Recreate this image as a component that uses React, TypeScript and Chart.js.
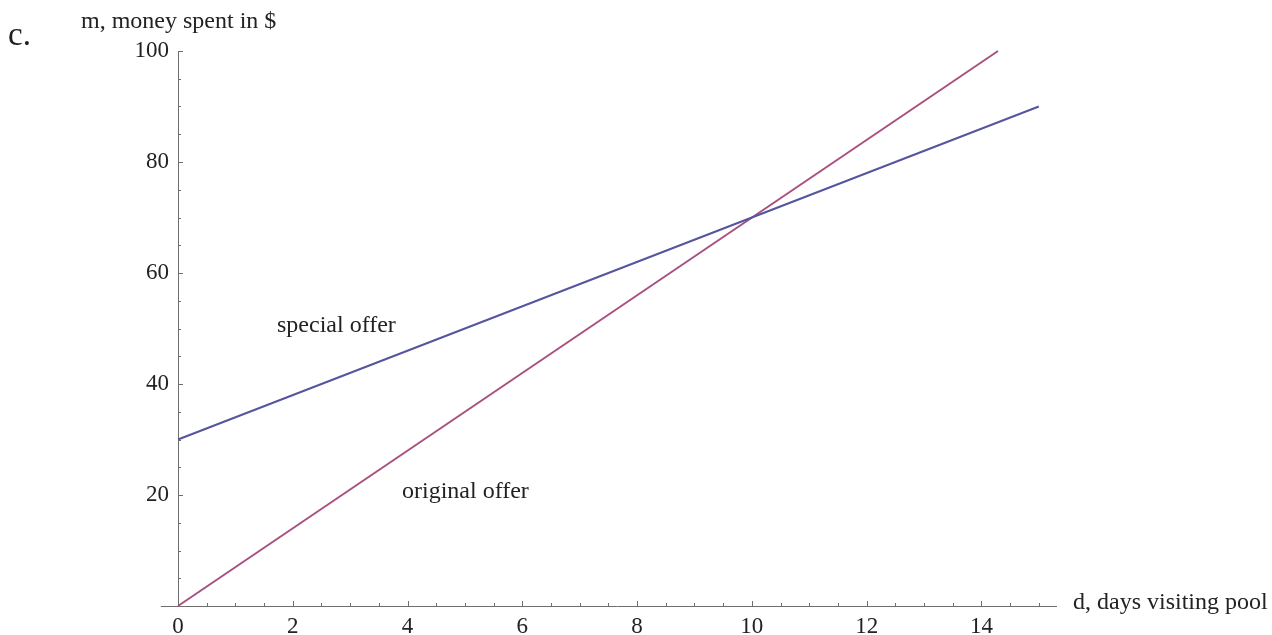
import React, { useEffect, useRef } from "react";
import { Chart, registerables } from "chart.js";

Chart.register(...registerables);

const xMajorTicks = [0, 2, 4, 6, 8, 10, 12, 14];
const yMajorTicks = [20, 40, 60, 80, 100];
const xMinorStep = 0.5;
const yMinorStep = 5;
const xMinorEnd = 15;
const xAxisStart = -0.3;

const specialOfferX = [0, 15];
const specialOfferY = [30, 90];
const originalOfferX = [0, 14.29];
const originalOfferY = [0, 100];

const xAxisTitle = "d, days visiting pool";
const yAxisTitle = "m, money spent in $";
const partLabel = "c.";
const specialLabel = "special offer";
const originalLabel = "original offer";

const FONT = "'Liberation Serif', 'Times New Roman', serif";
const AXIS_COLOR = "#6e6e6e";
const BLUE = "#55559e";
const PURPLE = "#a8507f";

const decorPlugin = {
  id: "decor",
  afterDatasetsDraw(chart: any) {
    const ctx = chart.ctx;
    const xs = chart.scales.x;
    const ys = chart.scales.y;
    const x0 = xs.getPixelForValue(0);
    const y0 = ys.getPixelForValue(0);
    ctx.save();
    ctx.strokeStyle = AXIS_COLOR;
    ctx.lineWidth = 1;
    // extension of x axis to the left of the origin
    ctx.beginPath();
    ctx.moveTo(xs.getPixelForValue(xAxisStart), Math.round(y0) + 0.5);
    ctx.lineTo(x0, Math.round(y0) + 0.5);
    ctx.stroke();
    // x ticks (inward, upward)
    for (let v = xMinorStep; v <= xMinorEnd + 1e-9; v += xMinorStep) {
      const major = xMajorTicks.includes(Math.round(v * 100) / 100);
      const len = major ? 5 : 3;
      const px = Math.round(xs.getPixelForValue(v)) + 0.5;
      ctx.beginPath();
      ctx.moveTo(px, y0);
      ctx.lineTo(px, y0 - len);
      ctx.stroke();
    }
    // y ticks (inward, right)
    for (let v = yMinorStep; v <= 100 + 1e-9; v += yMinorStep) {
      const major = yMajorTicks.includes(Math.round(v));
      const len = major ? 5 : 3;
      const py = Math.round(ys.getPixelForValue(v)) + 0.5;
      ctx.beginPath();
      ctx.moveTo(x0, py);
      ctx.lineTo(x0 + len, py);
      ctx.stroke();
    }
    // texts
    ctx.fillStyle = "#222";
    ctx.textBaseline = "alphabetic";
    ctx.textAlign = "left";
    ctx.font = `24px ${FONT}`;
    ctx.fillText(yAxisTitle, 81, 28);
    ctx.fillText(xAxisTitle, 1073, 609);
    ctx.fillText(specialLabel, 277, 332);
    ctx.fillText(originalLabel, 402, 498);
    ctx.font = `33px ${FONT}`;
    ctx.fillText(partLabel, 8, 45);
    ctx.restore();
  },
};

export default function App() {
  const ref = useRef<HTMLCanvasElement | null>(null);
  useEffect(() => {
    if (!ref.current) return;
    const chart = new Chart(ref.current, {
      type: "scatter",
      data: {
        datasets: [
          {
            label: specialLabel,
            data: specialOfferX.map((x, i) => ({ x, y: specialOfferY[i] })),
            showLine: true,
            borderColor: BLUE,
            borderWidth: 2,
            pointRadius: 0,
            clip: false as any,
          },
          {
            label: originalLabel,
            data: originalOfferX.map((x, i) => ({ x, y: originalOfferY[i] })),
            showLine: true,
            borderColor: PURPLE,
            borderWidth: 2,
            pointRadius: 0,
            clip: false as any,
          },
        ],
      },
      options: {
        responsive: false,
        animation: false,
        layout: { padding: { left: 0, top: 51, right: 216, bottom: 0 } },
        plugins: { legend: { display: false }, tooltip: { enabled: false } },
        scales: {
          x: {
            type: "linear",
            min: 0,
            max: 15.3,
            afterBuildTicks: (s: any) => {
              s.ticks = xMajorTicks.map((v) => ({ value: v }));
            },
            afterFit: (s: any) => {
              s.height = 29;
            },
            ticks: {
              autoSkip: false,
              maxRotation: 0,
              padding: 7,
              color: "#222",
              font: { family: FONT, size: 23 },
              callback: (v: any) => String(v),
            },
            grid: { drawOnChartArea: false, drawTicks: false },
            border: { color: AXIS_COLOR, width: 1 },
          },
          y: {
            type: "linear",
            position: "left",
            min: 0,
            max: 100,
            afterBuildTicks: (s: any) => {
              s.ticks = yMajorTicks.map((v) => ({ value: v }));
            },
            afterFit: (s: any) => {
              s.width = 178;
            },
            ticks: {
              autoSkip: false,
              padding: 9,
              color: "#222",
              font: { family: FONT, size: 23 },
              callback: (v: any) => String(v),
            },
            grid: { drawOnChartArea: false, drawTicks: false },
            border: { color: AXIS_COLOR, width: 1 },
          },
        },
      },
      plugins: [decorPlugin],
    });
    return () => chart.destroy();
  }, []);
  return (
    <div style={{ position: "fixed", left: 0, top: 0, width: 1272, height: 635, background: "#fff" }}>
      <canvas ref={ref} width={1272} height={635} style={{ width: 1272, height: 635 }} />
    </div>
  );
}
